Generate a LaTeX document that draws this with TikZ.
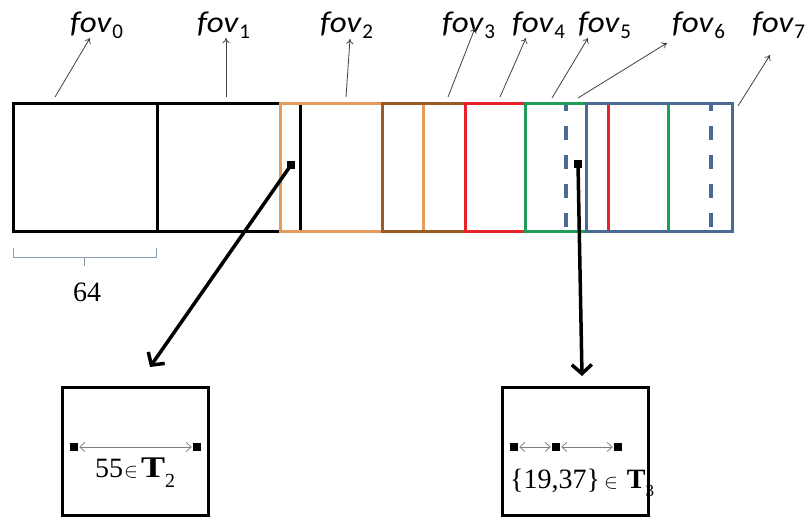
\documentclass[tikz,border=0pt]{standalone}
\usepackage{fontspec}
\setmainfont{Liberation Serif}
\newfontfamily\calib{Carlito}
\usetikzlibrary{arrows.meta}
\definecolor{cOrange}{HTML}{E59C5A}
\definecolor{cBrown}{HTML}{995C25}
\definecolor{cRed}{HTML}{E8212A}
\definecolor{cGreen}{HTML}{1E9E5A}
\definecolor{cBlue}{HTML}{4A6A94}
\definecolor{cBrace}{HTML}{8C9CAF}
\definecolor{cPtr}{HTML}{404040}
\newcommand{\fovlab}[1]{\scalebox{1.1}[1]{\calib\itshape fov}\hspace{1pt}\raisebox{-6pt}{\calib\fontsize{21}{21}\selectfont #1}}
\tikzset{
  fovbox/.style={line width=3pt, line cap=rect},
  fovlabel/.style={anchor=base west, inner sep=0pt, font=\fontsize{30}{30}\selectfont},
  ptr/.style={draw=cPtr, line width=0.8pt, -{To[length=5pt,width=7pt]}},
  bigarrow/.style={line width=3.5pt, -{Straight Barb[length=9pt,width=20pt,line width=3.5pt]}},
  pt/.style={fill=black, minimum size=8pt, inner sep=0pt, rectangle},
  dim/.style={draw=gray, line width=0.8pt, {Straight Barb[length=5pt,width=9pt]}-{Straight Barb[length=5pt,width=9pt]}, shorten <=1pt, shorten >=1pt},
  smallbox/.style={draw, line width=3pt, minimum width=146pt, minimum height=128pt, inner sep=0pt},
  serif/.style={inner sep=0pt, font=\fontsize{28}{28}\selectfont}
}
\begin{document}
\begin{tikzpicture}[x=1pt,y=-1pt]
\useasboundingbox (0,0) rectangle (810,518);
% strip of fields of view
\draw[fovbox, black] (13,104) rectangle (157,232);
\draw[fovbox, black] (157,104) rectangle (300,232);
\draw[fovbox, cOrange] (280,104) rectangle (423,232);
\draw[fovbox, cBrown] (382,104) rectangle (525,232);
\draw[fovbox, cRed] (465,104) rectangle (608,232);
\draw[line width=3.5pt, cBlue, dash pattern=on 14pt off 15pt, dash phase=7pt] (566,104) -- (566,232);
\draw[line width=3.5pt, cBlue, dash pattern=on 14pt off 15pt, dash phase=7pt] (711,104) -- (711,232);
\draw[fovbox, cGreen] (525,104) rectangle (668,232);
\draw[fovbox, cBlue] (586,104) rectangle (732,232);
% labels
\node[fovlabel] (l0) at (70,33) {\fovlab{0}};
\node[fovlabel] (l1) at (197,33) {\fovlab{1}};
\node[fovlabel] (l2) at (320,33) {\fovlab{2}};
\node[fovlabel] (l3) at (442,33) {\fovlab{3}};
\node[fovlabel] (l4) at (512,33) {\fovlab{4}};
\node[fovlabel] (l5) at (578,33) {\fovlab{5}};
\node[fovlabel] (l6) at (672,33) {\fovlab{6}};
\node[fovlabel] (l7) at (752,33) {\fovlab{7}};
\coordinate (t0) at (90,38);  \coordinate (s0) at (55,97);
\coordinate (t1) at (226,38); \coordinate (s1) at (226,97);
\coordinate (t2) at (350,39); \coordinate (s2) at (346,97);
\coordinate (t3) at (475,28); \coordinate (s3) at (448,97);
\coordinate (t4) at (526,38); \coordinate (s4) at (500,97);
\coordinate (t5) at (588,38); \coordinate (s5) at (552,98);
\coordinate (t6) at (667,43); \coordinate (s6) at (578,98);
\coordinate (t7) at (770,55); \coordinate (s7) at (738,106);
\foreach \i in {0,...,7} { \draw[ptr] (s\i) -- (t\i); }
% brace
\coordinate (b0) at (13,248); \coordinate (b1) at (156,248);
\draw[cBrace, line width=0.8pt] (b0) -- (13,257) -- (156,257) -- (b1);
\draw[cBrace, line width=0.8pt] (84.5,257) -- (84.5,266);
\node[serif] (n64) at (87,292) {64};
% lower boxes
\node[smallbox] (boxL) at (135,451) {};
\node[smallbox] (boxR) at (575.5,451) {};
% points on the strip
\node[pt] (pA) at (291,165) {};
\node[pt] (pB) at (578,164) {};
\coordinate (hA) at (150,367);
\coordinate (hB) at (582,376);
\draw[bigarrow] (pA.center) -- (hA);
\draw[bigarrow] (pB.center) -- (hB);
% left box content
\node[pt] (q1) at (74,447) {};
\node[pt] (q2) at (197,447) {};
\draw[dim] (q1) -- (q2);
\node[serif, anchor=base west] (tL) at (95,477) {55\hspace{1pt}{\fontsize{20}{20}\selectfont$\in$}\hspace{3pt}\scalebox{1.2}[1]{\fontsize{30}{30}\selectfont\textbf{T}}\raisebox{-10pt}{\fontsize{20}{20}\selectfont 2}};
% right box content
\node[pt] (r1) at (514,447) {};
\node[pt] (r2) at (556,447) {};
\node[pt] (r3) at (618,447) {};
\draw[dim] (r1) -- (r2);
\draw[dim] (r2) -- (r3);
\node[serif, anchor=base west] (tR) at (510,488) {\{19,37\}\hspace{4pt}{\fontsize{20}{20}\selectfont$\in$}\hspace{9pt}\textbf{T}\raisebox{-8pt}{\fontsize{17}{17}\selectfont 3}};
\end{tikzpicture}
\end{document}
